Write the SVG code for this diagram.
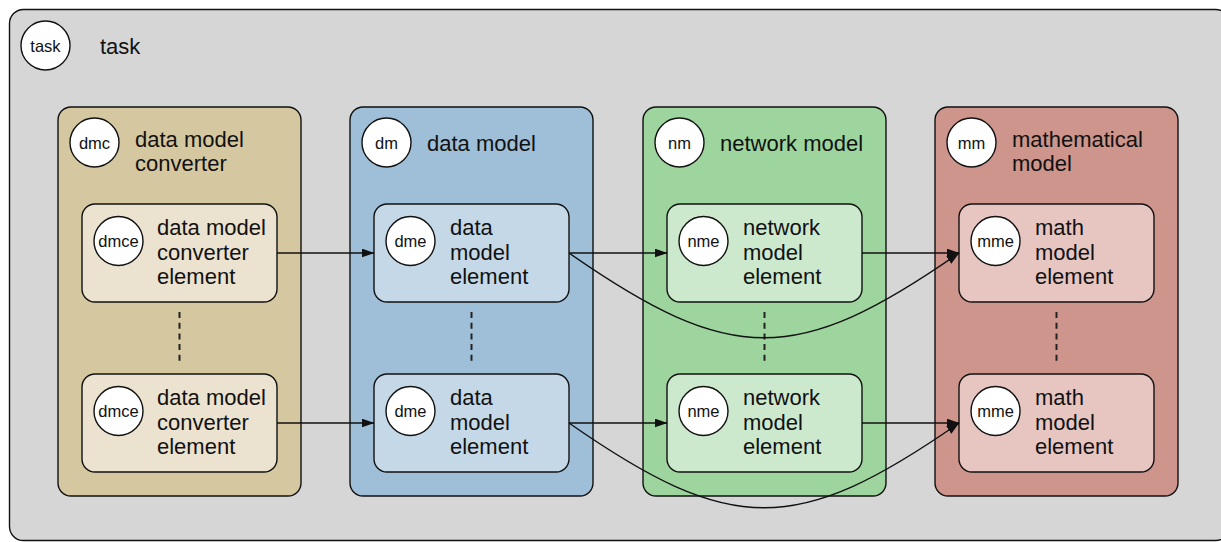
<svg xmlns="http://www.w3.org/2000/svg" width="1221" height="542" viewBox="0 0 1221 542">
<style>
text{font-family:"Liberation Sans",Arial,Helvetica,sans-serif;fill:#111}
.lbl{font-size:22px}
.cl{font-size:16.5px;text-anchor:middle}
.circ{fill:#fff;stroke:#111;stroke-width:1.4}
.box{stroke:#111;stroke-width:1.4}
.conn{fill:none;stroke:#111;stroke-width:1.4}
.dash{fill:none;stroke:#222;stroke-width:2;stroke-dasharray:6 4.7}
.c1{fill:#d5c79f}.e1{fill:#ebe2cf}
.c2{fill:#9ebfd7}.e2{fill:#c5d8e7}
.c3{fill:#9ed49d}.e3{fill:#cde9cd}
.c4{fill:#cd958c}.e4{fill:#e7c6c2}
</style>
<defs>
<marker id="arr" markerUnits="userSpaceOnUse" markerWidth="13" markerHeight="9" viewBox="0 0 13 9" refX="12.5" refY="4.5" orient="auto">
<path d="M0,0 L13,4.5 L0,9 z" fill="#111"/>
</marker>
</defs>

<g id="task">
<rect x="9.5" y="9.5" width="1220" height="531" rx="14" fill="#d6d6d6" stroke="#111" stroke-width="1.4"/>
<circle class="circ" cx="45.5" cy="45.5" r="24.5"/>
<text class="cl" x="45.5" y="51.5">task</text>
<text class="lbl" x="100" y="54">task</text>
</g>

<g id="dmc">
<rect class="box c1" x="58" y="107" width="243" height="389" rx="13"/>
<circle class="circ" cx="94.5" cy="142.5" r="24.5"/>
<text class="cl" x="94.5" y="148.5">dmc</text>
<text class="lbl" x="135"><tspan x="135" y="146.5">data model</tspan><tspan x="135" y="171">converter</tspan></text>
</g>
<g id="dmce1">
<rect class="box e1" x="82" y="204" width="195" height="98" rx="13"/>
<circle class="circ" cx="118.5" cy="241" r="24.5"/>
<text class="cl" x="118.5" y="247">dmce</text>
<text class="lbl" x="157"><tspan x="157" y="235">data model</tspan><tspan x="157" y="259.5">converter</tspan><tspan x="157" y="284">element</tspan></text>
</g>
<g id="dmce2">
<rect class="box e1" x="82" y="374" width="195" height="98" rx="13"/>
<circle class="circ" cx="118.5" cy="411" r="24.5"/>
<text class="cl" x="118.5" y="417">dmce</text>
<text class="lbl" x="157"><tspan x="157" y="405">data model</tspan><tspan x="157" y="429.5">converter</tspan><tspan x="157" y="454">element</tspan></text>
</g>

<g id="dm">
<rect class="box c2" x="350" y="107" width="243" height="389" rx="13"/>
<circle class="circ" cx="386.5" cy="142.5" r="24.5"/>
<text class="cl" x="386.5" y="148.5">dm</text>
<text class="lbl" x="427" y="151">data model</text>
</g>
<g id="dme1">
<rect class="box e2" x="374" y="204" width="195" height="98" rx="13"/>
<circle class="circ" cx="410.5" cy="241" r="24.5"/>
<text class="cl" x="410.5" y="247">dme</text>
<text class="lbl" x="450"><tspan x="450" y="235">data</tspan><tspan x="450" y="259.5">model</tspan><tspan x="450" y="284">element</tspan></text>
</g>
<g id="dme2">
<rect class="box e2" x="374" y="374" width="195" height="98" rx="13"/>
<circle class="circ" cx="410.5" cy="411" r="24.5"/>
<text class="cl" x="410.5" y="417">dme</text>
<text class="lbl" x="450"><tspan x="450" y="405">data</tspan><tspan x="450" y="429.5">model</tspan><tspan x="450" y="454">element</tspan></text>
</g>

<g id="nm">
<rect class="box c3" x="643" y="107" width="243" height="389" rx="13"/>
<circle class="circ" cx="679.5" cy="142.5" r="24.5"/>
<text class="cl" x="679.5" y="148.5">nm</text>
<text class="lbl" x="720" y="151">network model</text>
</g>
<g id="nme1">
<rect class="box e3" x="667" y="204" width="195" height="98" rx="13"/>
<circle class="circ" cx="703.5" cy="241" r="24.5"/>
<text class="cl" x="703.5" y="247">nme</text>
<text class="lbl" x="743"><tspan x="743" y="235">network</tspan><tspan x="743" y="259.5">model</tspan><tspan x="743" y="284">element</tspan></text>
</g>
<g id="nme2">
<rect class="box e3" x="667" y="374" width="195" height="98" rx="13"/>
<circle class="circ" cx="703.5" cy="411" r="24.5"/>
<text class="cl" x="703.5" y="417">nme</text>
<text class="lbl" x="743"><tspan x="743" y="405">network</tspan><tspan x="743" y="429.5">model</tspan><tspan x="743" y="454">element</tspan></text>
</g>

<g id="mm">
<rect class="box c4" x="935" y="107" width="243" height="389" rx="13"/>
<circle class="circ" cx="971.5" cy="142.5" r="24.5"/>
<text class="cl" x="971.5" y="148.5">mm</text>
<text class="lbl" x="1012"><tspan x="1012" y="146.5">mathematical</tspan><tspan x="1012" y="171">model</tspan></text>
</g>
<g id="mme1">
<rect class="box e4" x="959" y="204" width="195" height="98" rx="13"/>
<circle class="circ" cx="995.5" cy="241" r="24.5"/>
<text class="cl" x="995.5" y="247">mme</text>
<text class="lbl" x="1035"><tspan x="1035" y="235">math</tspan><tspan x="1035" y="259.5">model</tspan><tspan x="1035" y="284">element</tspan></text>
</g>
<g id="mme2">
<rect class="box e4" x="959" y="374" width="195" height="98" rx="13"/>
<circle class="circ" cx="995.5" cy="411" r="24.5"/>
<text class="cl" x="995.5" y="417">mme</text>
<text class="lbl" x="1035"><tspan x="1035" y="405">math</tspan><tspan x="1035" y="429.5">model</tspan><tspan x="1035" y="454">element</tspan></text>
</g>

<g id="connectors">
<line class="dash" x1="179.5" y1="312" x2="179.5" y2="364"/>
<line class="dash" x1="471.5" y1="312" x2="471.5" y2="364"/>
<line class="dash" x1="764.5" y1="312" x2="764.5" y2="364"/>
<line class="dash" x1="1056.5" y1="312" x2="1056.5" y2="364"/>
<path class="conn" marker-end="url(#arr)" d="M277,253 L374,253"/>
<path class="conn" marker-end="url(#arr)" d="M569,253 L667,253"/>
<path class="conn" marker-end="url(#arr)" d="M862,253 L959,253"/>
<path class="conn" marker-end="url(#arr)" d="M569,253 C731,366 797,366 959,253"/>
<path class="conn" marker-end="url(#arr)" d="M277,423 L374,423"/>
<path class="conn" marker-end="url(#arr)" d="M569,423 L667,423"/>
<path class="conn" marker-end="url(#arr)" d="M862,423 L959,423"/>
<path class="conn" marker-end="url(#arr)" d="M569,423 C731,536 797,536 959,423"/>
</g>
</svg>
